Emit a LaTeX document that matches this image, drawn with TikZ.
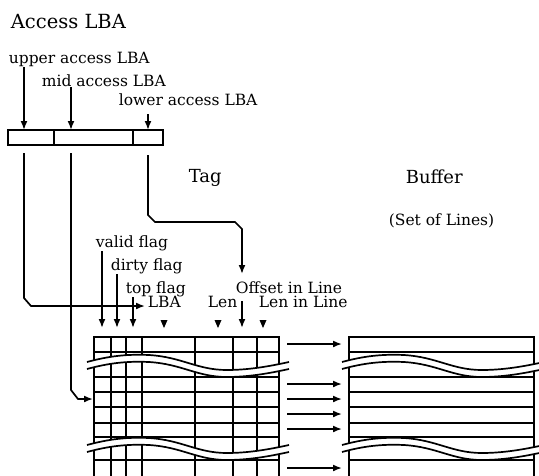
\documentclass[tikz,border=0pt]{standalone}
\usepackage{fontspec}
\setmainfont{DejaVu Serif}
\usetikzlibrary{arrows.meta}

\newcommand{\brkcurve}{(0,0) .. controls (22,-6) and (40,-8) .. (62,-7) .. controls (95,-5) and (110,8) .. (140,8) .. controls (165,8) and (188,3) .. (202,0)}

\tikzset{
	arr/.style={-{Latex[length=9pt,width=7pt]}},
	lbl/.style={anchor=base west, inner sep=0pt, font=\fontsize{15.5}{17}\selectfont},
	big/.style={anchor=base west, inner sep=0pt, font=\fontsize{18}{20}\selectfont},
	pics/brk/.style={code={
		\draw[white, line width=7pt, shift={(0,3.5)}] \brkcurve;
		\draw \brkcurve;
		\draw[shift={(0,7)}] \brkcurve;
	}},
}

\begin{document}
\begin{tikzpicture}[x=1pt, y=-1pt, line width=1.7pt]
		\useasboundingbox (0,0) rectangle (539,475);
		\clip (0,0) rectangle (539,475);
		% access LBA register
		\node[big, font=\fontsize{19.5}{21}\selectfont] (title) at (10,28) {Access LBA};
		\node[lbl] (upper) at (8,63) {upper access LBA};
		\node[lbl] (mid) at (41,86) {mid access LBA};
		\node[lbl] (lower) at (118,105) {lower access LBA};
		\draw (8,130) rectangle (163,145);
		\draw (54,130) -- (54,145);
		\draw (133,130) -- (133,145);
		\coordinate (ua) at (24,130);
		\coordinate (ma) at (71,130);
		\coordinate (la) at (148,130);
		\draw[arr] (upper.south -| ua) -- (ua);
		\draw[arr] (mid.south -| ma) -- (ma);
		\draw[arr] (148,114) -- (la);
		% headings
		\node[big] (tag) at (188,182) {Tag};
		\node[big] (buffer) at (405,183) {Buffer};
		\node[lbl] (lines) at (388,225) {(Set of Lines)};
		% field labels
		\node[lbl] (validf) at (95,247) {valid flag};
		\node[lbl] (dirtyf) at (110,270) {dirty flag};
		\node[lbl] (topf) at (125,293) {top flag};
		\node[lbl] (offset) at (235,293) {Offset in Line};
		\node[lbl] (lba) at (147,307) {LBA};
		\node[lbl] (len) at (207,307) {Len};
		\node[lbl] (lenline) at (258,307) {Len in Line};
		% routes from the register
		\coordinate (lbain) at (145,306);
		\coordinate (rowin) at (93,399);
		\coordinate (offin) at (242,274);
		\draw[arr] (24,153) -- (24,298) -- (31,306) -- (lbain);
		\draw[arr] (71,153) -- (71,390) -- (78,399) -- (rowin);
		\draw[arr] (148,155) -- (148,215) -- (155,222) -- (235,222) -- (242,229) -- (offin);
		% arrows into the tag columns
		\coordinate (cv) at (102,328);
		\coordinate (cd) at (117,328);
		\coordinate (ct) at (133,328);
		\coordinate (co) at (242,328);
		\draw[arr] (validf.south -| cv) -- (cv);
		\draw[arr] (dirtyf.south -| cd) -- (cd);
		\draw[arr] (topf.south -| ct) -- (ct);
		\draw[arr] (242,301) -- (co);
		\foreach \x in {164,218,263}
			\fill ({\x-3.5},320) -- ({\x+3.5},320) -- (\x,328) -- cycle;
		% tag table
		\begin{scope}[line cap=rect]
			\foreach \x in {94,111,126,142,195,233,257,279}
				\draw (\x,337) -- (\x,480);
			\foreach \y in {337,352,377,392,407,423,437,460}
				\draw (94,\y) -- (279,\y);
			% buffer
			\foreach \x in {349,534}
				\draw (\x,337) -- (\x,480);
			\foreach \y in {337,352,377,392,407,423,437,460}
				\draw (349,\y) -- (534,\y);
		\end{scope}
		\pic at (87,362) {brk};
		\pic at (87,445) {brk};
		\pic at (342,362) {brk};
		\pic at (342,445) {brk};
		% tag lines to buffer lines
		\foreach \y [count=\i] in {344,384,399,414,429,468} {
			\coordinate (tl\i) at (287,\y);
			\coordinate (bl\i) at (342,\y);
			\draw[arr] (tl\i) -- (bl\i);
		}
	\end{tikzpicture}
\end{document}
